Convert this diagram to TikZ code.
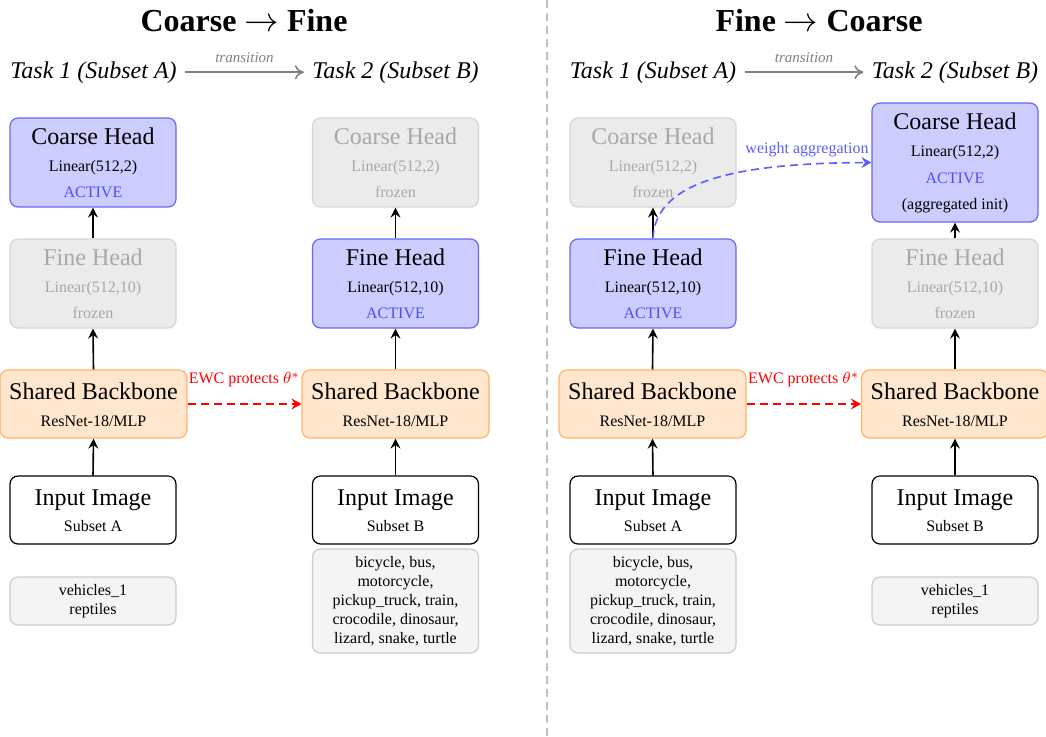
\documentclass[tikz,border=0pt]{standalone}
\usepackage{fontspec}
\setmainfont{Liberation Serif}
\usetikzlibrary{arrows.meta}
\definecolor{actfill}{HTML}{CCCCFF}
\definecolor{actdraw}{HTML}{6666FF}
\definecolor{acttxt}{HTML}{4D4DFF}
\definecolor{frzfill}{HTML}{EBEBEB}
\definecolor{frzdraw}{HTML}{D6D6D6}
\definecolor{frztxt}{HTML}{A8A8A8}
\definecolor{bbfill}{HTML}{FFE6CC}
\definecolor{bbdraw}{HTML}{FFB366}
\definecolor{catfill}{HTML}{F4F4F4}
\definecolor{catdraw}{HTML}{CCCCCC}
\definecolor{sepcol}{HTML}{C0C0C0}
\definecolor{transcol}{HTML}{808080}
\definecolor{ewc}{HTML}{FF0000}
\definecolor{agg}{HTML}{5C5CFF}
\begin{document}
\begin{tikzpicture}[x=0.5pt,y=-0.5pt,
  box/.style={rounded corners=4pt, line width=0.6pt, inner sep=0pt, minimum width=83pt},
  head/.style={box, minimum height=44.5pt},
  act/.style={head, fill=actfill, draw=actdraw},
  frz/.style={head, fill=frzfill, draw=frzdraw},
  bbone/.style={box, fill=bbfill, draw=bbdraw, minimum width=93.5pt, minimum height=34pt},
  inp/.style={box, fill=white, draw=black, minimum height=34pt},
  cat/.style={box, fill=catfill, draw=catdraw, font=\footnotesize, align=center},
  big/.style={anchor=base, inner sep=0pt, font=\fontsize{12}{14}\selectfont},
  sm/.style={anchor=base, inner sep=0pt, font=\footnotesize},
  ttl/.style={anchor=base, inner sep=0pt, font=\fontsize{16}{19}\selectfont\bfseries},
  task/.style={anchor=base, inner sep=4pt, font=\fontsize{12}{14}\selectfont\itshape},
  flow/.style={-{Stealth[length=5pt,width=5pt,inset=1.8pt]}, line width=0.8pt, black},
  trans/.style={-{To[length=4.5pt,width=7pt]}, line width=0.8pt, transcol},
  ewcarrow/.style={-{Stealth[length=5pt,width=5.5pt,inset=1.8pt]}, line width=0.8pt, ewc, dash pattern=on 4pt off 2.5pt},
  aggarrow/.style={-{Stealth[length=5pt,width=5.5pt,inset=1.8pt]}, line width=0.8pt, agg, dash pattern=on 4pt off 2.5pt},
  sepline/.style={line width=0.8pt, sepcol, dash pattern=on 4pt off 2.5pt}
]
\useasboundingbox (0,0) rectangle (1046,736);

% separator
\draw[sepline] (547,0) -- (547,736);

% titles
\node[ttl] (ttlL) at (244,31) {Coarse $\rightarrow$ Fine};
\node[ttl] (ttlR) at (819,31) {Fine $\rightarrow$ Coarse};

% task labels
\node[task] (tL1) at (93.5,78) {Task 1 (Subset A)};
\node[task] (tL2) at (395.5,78) {Task 2 (Subset B)};
\node[task] (tR1) at (653,78) {Task 1 (Subset A)};
\node[task] (tR2) at (955,78) {Task 2 (Subset B)};
\draw[trans] (tL1.east) -- node[midway, above=4.5pt, inner sep=0pt, font=\fontsize{7.5}{9}\selectfont\itshape, text=transcol] (trL) {transition} (tL2.west);
\draw[trans] (tR1.east) -- node[midway, above=4.5pt, inner sep=0pt, font=\fontsize{7.5}{9}\selectfont\itshape, text=transcol] (trR) {transition} (tR2.west);

% ================= LEFT PANEL =================
% task 1
\node[act] (LC1) at (93,162.5) {};
\node[big] (LC1a) at (93,144) {Coarse Head};
\node[sm] (LC1b) at (93,171) {Linear(512,2)};
\node[sm, text=acttxt] (LC1c) at (93,197) {ACTIVE};

\node[frz] (LF1) at (93,283.5) {};
\node[big, text=frztxt] (LF1a) at (93,265) {Fine Head};
\node[sm, text=frztxt] (LF1b) at (93,292) {Linear(512,10)};
\node[sm, text=frztxt] (LF1c) at (93,318) {frozen};

\node[bbone] (LB1) at (93.5,404) {};
\node[big] (LB1a) at (93.5,399) {Shared Backbone};
\node[sm] (LB1b) at (93.5,426) {ResNet-18/MLP};

\node[inp] (LI1) at (93,510) {};
\node[big] (LI1a) at (93,505) {Input Image};
\node[sm] (LI1b) at (93,531) {Subset A};

\node[cat, minimum height=24pt] (LK1) at (93,601) {vehicles\_1\\reptiles};

% task 2
\node[frz] (LC2) at (395.5,162.5) {};
\node[big, text=frztxt] (LC2a) at (395.5,144) {Coarse Head};
\node[sm, text=frztxt] (LC2b) at (395.5,171) {Linear(512,2)};
\node[sm, text=frztxt] (LC2c) at (395.5,197) {frozen};

\node[act] (LF2) at (395.5,283.5) {};
\node[big] (LF2a) at (395.5,265) {Fine Head};
\node[sm] (LF2b) at (395.5,292) {Linear(512,10)};
\node[sm, text=acttxt] (LF2c) at (395.5,318) {ACTIVE};

\node[bbone] (LB2) at (395.5,404) {};
\node[big] (LB2a) at (395.5,399) {Shared Backbone};
\node[sm] (LB2b) at (395.5,426) {ResNet-18/MLP};

\node[inp] (LI2) at (395.5,510) {};
\node[big] (LI2a) at (395.5,505) {Input Image};
\node[sm] (LI2b) at (395.5,531) {Subset B};

\node[cat, minimum height=52pt] (LK2) at (395.5,601) {bicycle, bus,\\motorcycle,\\pickup\_truck, train,\\crocodile, dinosaur,\\lizard, snake, turtle};

% arrows
\draw[flow] (LI1.north) -- (LB1.south);
\draw[flow] (LB1.north) -- (LF1.south);
\draw[flow] (LF1.north) -- (LC1.south);
\draw[flow] (LI2.north) -- (LB2.south);
\draw[flow] (LB2.north) -- (LF2.south);
\draw[flow] (LF2.north) -- (LC2.south);
\draw[ewcarrow] (LB1.east) -- node[midway, above=8pt, inner sep=0pt, font=\footnotesize, text=ewc] (ewcL) {EWC protects $\theta^*$} (LB2.west);

% ================= RIGHT PANEL =================
% task 1
\node[frz] (RC1) at (653,162.5) {};
\node[big, text=frztxt] (RC1a) at (653,144) {Coarse Head};
\node[sm, text=frztxt] (RC1b) at (653,171) {Linear(512,2)};
\node[sm, text=frztxt] (RC1c) at (653,197) {frozen};

\node[act] (RF1) at (653,283.5) {};
\node[big] (RF1a) at (653,265) {Fine Head};
\node[sm] (RF1b) at (653,292) {Linear(512,10)};
\node[sm, text=acttxt] (RF1c) at (653,318) {ACTIVE};

\node[bbone] (RB1) at (652.5,404) {};
\node[big] (RB1a) at (652.5,399) {Shared Backbone};
\node[sm] (RB1b) at (652.5,426) {ResNet-18/MLP};

\node[inp] (RI1) at (653,510) {};
\node[big] (RI1a) at (653,505) {Input Image};
\node[sm] (RI1b) at (653,531) {Subset A};

\node[cat, minimum height=52pt] (RK1) at (653,601) {bicycle, bus,\\motorcycle,\\pickup\_truck, train,\\crocodile, dinosaur,\\lizard, snake, turtle};

% task 2
\node[act, minimum height=59.5pt] (RC2) at (955,162.5) {};
\node[big] (RC2a) at (955,129) {Coarse Head};
\node[sm] (RC2b) at (955,156) {Linear(512,2)};
\node[sm, text=acttxt] (RC2c) at (955,183) {ACTIVE};
\node[sm] (RC2d) at (955,209) {(aggregated init)};

\node[frz] (RF2) at (955,283.5) {};
\node[big, text=frztxt] (RF2a) at (955,265) {Fine Head};
\node[sm, text=frztxt] (RF2b) at (955,292) {Linear(512,10)};
\node[sm, text=frztxt] (RF2c) at (955,318) {frozen};

\node[bbone] (RB2) at (955,404) {};
\node[big] (RB2a) at (955,399) {Shared Backbone};
\node[sm] (RB2b) at (955,426) {ResNet-18/MLP};

\node[inp] (RI2) at (955,510) {};
\node[big] (RI2a) at (955,505) {Input Image};
\node[sm] (RI2b) at (955,531) {Subset B};

\node[cat, minimum height=24pt] (RK2) at (955,601) {vehicles\_1\\reptiles};

% arrows
\draw[flow] (RI1.north) -- (RB1.south);
\draw[flow] (RB1.north) -- (RF1.south);
\draw[flow] (RF1.north) -- (RC1.south);
\draw[flow] (RI2.north) -- (RB2.south);
\draw[flow] (RB2.north) -- (RF2.south);
\draw[flow] (RF2.north) -- (RC2.south);
\draw[ewcarrow] (RB1.east) -- node[midway, above=8pt, inner sep=0pt, font=\footnotesize, text=ewc] (ewcR) {EWC protects $\theta^*$} (RB2.west);

\draw[aggarrow] (RF1.north) .. controls (655,180) and (740,163) .. (RC2.west);
\node[anchor=base, inner sep=0pt, font=\footnotesize, text=agg] (aggL) at (807,153) {weight aggregation};
\end{tikzpicture}
\end{document}
